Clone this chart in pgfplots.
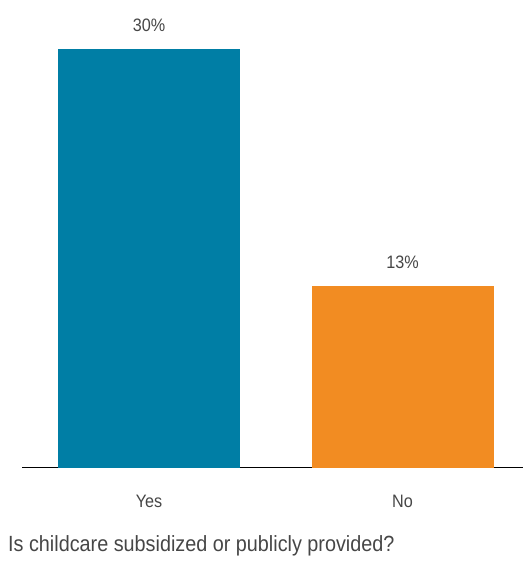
\documentclass[border=0pt]{standalone}
\usepackage{pgfplots}
\pgfplotsset{compat=1.18}
\usepackage{fontspec}
\setmainfont[FakeStretch=0.9]{Liberation Sans}
\definecolor{teal}{RGB}{0,126,165}
\definecolor{orng}{RGB}{242,140,34}
\definecolor{txt}{RGB}{70,70,70}
\begin{document}
\begin{tikzpicture}[x=1pt,y=1pt]
\useasboundingbox (0,0) rectangle (523,578);
\begin{axis}[
  at={(22pt,110pt)}, anchor=south west,
  scale only axis, width=501pt, height=468pt,
  xmin=-0.501, xmax=1.475, ymin=0, ymax=33.5,
  axis x line=bottom, axis y line=none,
  axis line style={-, black, line width=1pt},
  xtick={0,1}, xticklabels={Yes,No},
  major tick length=0pt,
  /pgf/number format/assume math mode=true,
  xticklabel style={font=\fontsize{18}{21}\selectfont, text=txt, yshift=-24pt},
  ytick=\empty,
  bar width=182pt,
  nodes near coords={\pgfmathprintnumber{\pgfplotspointmeta}\%},
  nodes near coords style={font=\fontsize{18}{21}\selectfont, text=txt, yshift=14pt},
  clip=false,
]
\addplot[ybar, fill=teal, draw=none] coordinates {(0,30)};
\addplot[ybar, fill=orng, draw=none] coordinates {(1,13)};
\end{axis}
\node[anchor=west, font=\fontsize{22}{25}\selectfont, text=txt, inner sep=0pt] at (8,32) {Is childcare subsidized or publicly provided?};
\end{tikzpicture}
\end{document}
